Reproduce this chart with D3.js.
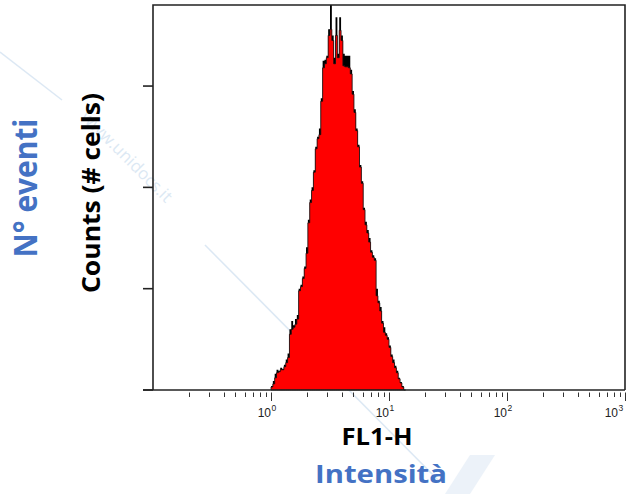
<!DOCTYPE html>
<html>
<head>
<meta charset="UTF-8">
<script src="https://d3js.org/d3.v7.min.js"></script>
<style>
body { margin: 0; background: #fff; }
svg { display: block; }
.lbl { font-family: "Open Sans", sans-serif; font-weight: bold; }
.tick-lbl { font-family: "Liberation Sans", Arial, sans-serif; fill: #222; }
</style>
</head>
<body>
<svg width="627" height="494"></svg>
<script>
// channels (256 over 4 decades), histogram counts
var channels = d3.range(64, 137);
var redCounts = [3, 6, 12, 17, 18, 20, 20, 23, 27, 32, 55, 60, 62, 65, 70, 98, 102, 110, 120, 135,
  165, 185, 197, 215, 238, 248, 252, 285, 318, 322, 328, 350, 356, 345, 322, 350, 328, 355, 345, 320,
  319, 319, 318, 312, 292, 274, 256, 240, 220, 204, 178, 163, 155, 146, 136, 131, 128, 93, 86, 78,
  66, 57, 54, 50, 42, 33, 27, 22, 17, 11, 7, 3, 0];
var blackCounts = [4, 9, 16, 20, 19, 22, 21, 25, 30, 36, 60, 68, 64, 70, 74, 100, 104, 112, 122, 141,
  168, 188, 200, 217, 240, 250, 258, 288, 325, 326, 330, 356, 380, 350, 328, 368, 332, 368, 350, 332,
  330, 330, 330, 316, 295, 277, 258, 242, 222, 206, 180, 166, 158, 150, 138, 133, 130, 100, 88, 82,
  68, 62, 56, 52, 44, 35, 30, 24, 19, 12, 8, 4, 0];
var decades = [1, 10, 100, 1000];
var yTicks = [0, 100, 200, 300];

var svg = d3.select("svg");
var m = {left: 153, right: 625, top: 5, bottom: 390};

var x = d3.scaleLog().domain([0.1, 1000]).range([m.left, m.right]);
var y = d3.scaleLinear().domain([0, 380]).range([m.bottom, m.top]);
var chanToVal = function(c) { return 0.1 * Math.pow(10, c / 64); };

// faint watermark
var wm = svg.append("g").attr("opacity", 0.35);
wm.append("line").attr("x1", 0).attr("y1", 52).attr("x2", 62).attr("y2", 100)
  .attr("stroke", "#9dbfe0").attr("stroke-width", 1.5);
wm.append("line").attr("x1", 205).attr("y1", 245).attr("x2", 440).attr("y2", 482)
  .attr("stroke", "#9dbfe0").attr("stroke-width", 1.5);
wm.append("path").attr("d", "M445,494 L470,455 L495,455 L470,494 Z")
  .attr("fill", "#c9dcef");
wm.append("text").attr("transform", "translate(80,118) rotate(45)")
  .attr("font-family", "Open Sans, sans-serif").attr("font-size", 17)
  .attr("fill", "#9dbfe0").text("www.unidocs.it");

// histogram
function stepArea(counts) {
  var pts = [];
  channels.forEach(function(c, i) {
    pts.push([x(chanToVal(c)), y(counts[i])]);
    pts.push([x(chanToVal(c + 1)), y(counts[i])]);
  });
  return d3.area().x(function(d) { return d[0]; }).y0(y(0)).y1(function(d) { return d[1]; })(pts);
}
svg.append("path").attr("d", stepArea(blackCounts)).attr("fill", "#000");
svg.append("path").attr("d", stepArea(redCounts)).attr("fill", "#ff0000")
  .attr("stroke", "#111").attr("stroke-width", 0.8);

// frame
var frame = svg.append("g").attr("stroke", "#222").attr("stroke-width", 1.6).attr("fill", "none");
frame.append("path").attr("d", "M" + m.left + "," + m.bottom + "V" + m.top + "H" + m.right + "V" + m.bottom);
frame.append("line").attr("x1", m.left - 10).attr("x2", m.right).attr("y1", m.bottom).attr("y2", m.bottom);

// y ticks
svg.append("g").selectAll("line").data(yTicks).join("line")
  .attr("x1", m.left - 10).attr("x2", m.left).attr("y1", function(d) { return y(d); }).attr("y2", function(d) { return y(d); })
  .attr("stroke", "#222").attr("stroke-width", 1.6);

// x ticks (log)
var minor = [];
[0.1, 1, 10, 100].forEach(function(b) { for (var k = 2; k <= 9; k++) minor.push(b * k); });
svg.append("g").selectAll("line").data(minor).join("line")
  .attr("x1", function(d) { return Math.round(x(d)) + 0.5; }).attr("x2", function(d) { return Math.round(x(d)) + 0.5; })
  .attr("y1", m.bottom + 2.5).attr("y2", m.bottom + 7).attr("stroke", "#333").attr("stroke-width", 1);
svg.append("g").selectAll("line").data(decades).join("line")
  .attr("x1", function(d) { return Math.round(x(d)) + 0.5; }).attr("x2", function(d) { return Math.round(x(d)) + 0.5; })
  .attr("y1", m.bottom + 2.5).attr("y2", m.bottom + 11).attr("stroke", "#333").attr("stroke-width", 1);

var tl = svg.append("g").selectAll("g").data(decades).join("g")
  .attr("transform", function(d) { return "translate(" + Math.min(x(d), m.right - 7) + ",0)"; });
tl.append("text").attr("class", "tick-lbl").attr("x", 0).attr("y", 417)
  .attr("text-anchor", "end").attr("font-size", 12).text("10");
tl.append("text").attr("class", "tick-lbl").attr("x", 0.5).attr("y", 411)
  .attr("font-size", 8.5).text(function(d) { return Math.round(Math.log10(d)); });

// axis titles
svg.append("text").attr("class", "lbl").attr("x", 377).attr("y", 445)
  .attr("text-anchor", "middle").attr("font-size", 23).attr("fill", "#000")
  .attr("textLength", 71).attr("lengthAdjust", "spacingAndGlyphs").text("FL1-H");
svg.append("text").attr("class", "lbl").attr("x", 381).attr("y", 483)
  .attr("text-anchor", "middle").attr("font-size", 25).attr("fill", "#4472c4")
  .attr("textLength", 132).attr("lengthAdjust", "spacingAndGlyphs").text("Intensità");
svg.append("text").attr("class", "lbl").attr("transform", "translate(100,193) rotate(-90)")
  .attr("text-anchor", "middle").attr("font-size", 25).attr("fill", "#000")
  .attr("textLength", 200).attr("lengthAdjust", "spacingAndGlyphs").text("Counts (# cells)");
svg.append("text").attr("class", "lbl").attr("transform", "translate(37,188) rotate(-90)")
  .attr("text-anchor", "middle").attr("font-size", 33).attr("fill", "#4472c4")
  .attr("textLength", 139).attr("lengthAdjust", "spacingAndGlyphs").text("N° eventi");
</script>
</body>
</html>
